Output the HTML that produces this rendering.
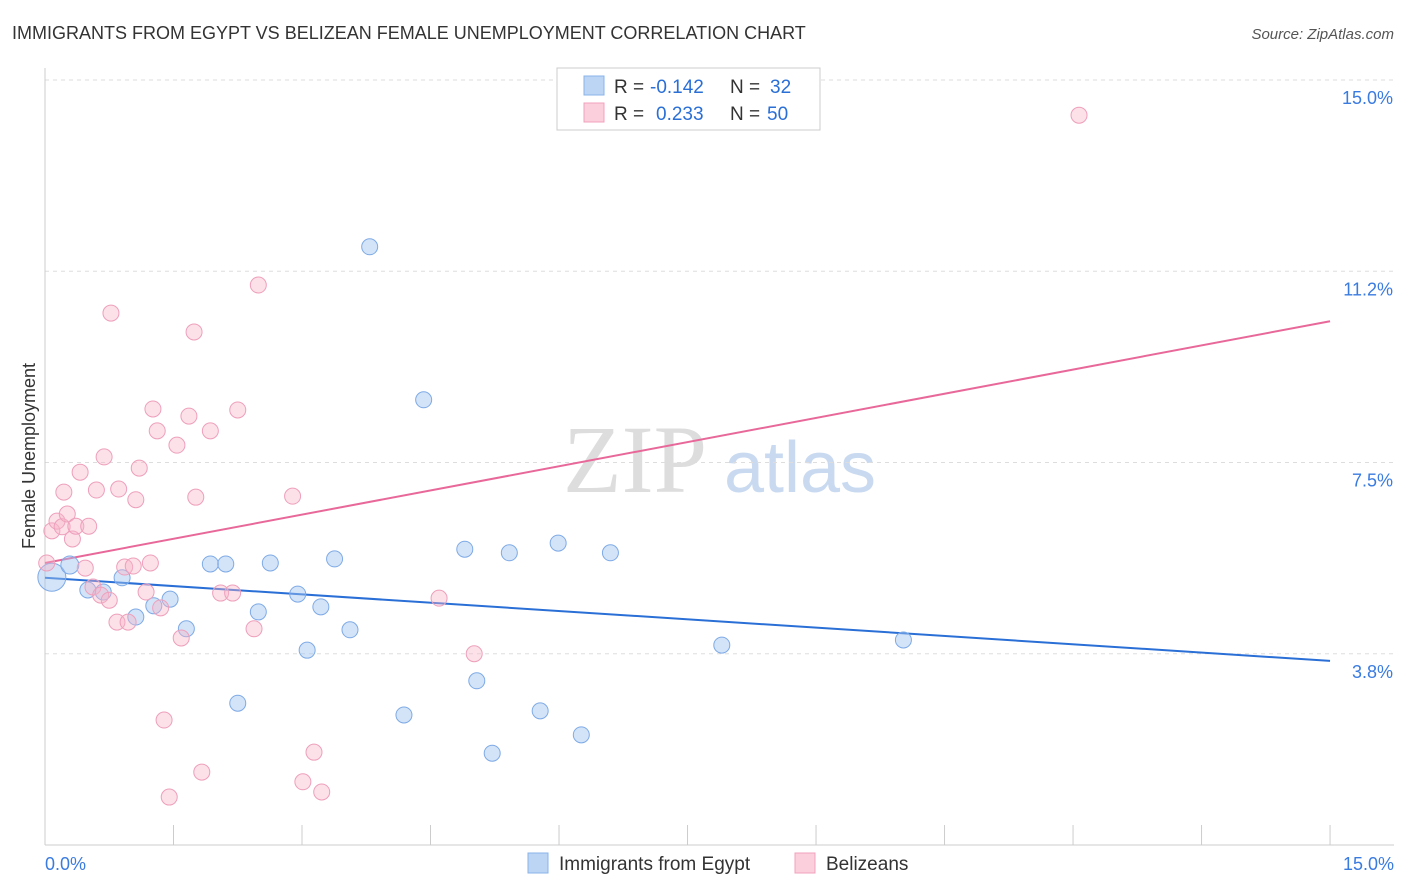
<!DOCTYPE html>
<html><head><meta charset="utf-8"><style>
body{margin:0;background:#fff;font-family:"Liberation Sans",sans-serif;}
#c{position:absolute;left:0;top:0;}
</style></head><body>
<svg id="c" width="1406" height="892" xmlns="http://www.w3.org/2000/svg">
<text x="12" y="39" font-size="18" fill="#333">IMMIGRANTS FROM EGYPT VS BELIZEAN FEMALE UNEMPLOYMENT CORRELATION CHART</text>
<text x="1394" y="39" font-size="15" fill="#555" text-anchor="end" font-style="italic">Source: ZipAtlas.com</text>
<text x="35" y="456" font-size="18" fill="#333" text-anchor="middle" transform="rotate(-90 35 456)">Female Unemployment</text>
<g>
<text x="635" y="492" font-size="96" fill="#ddd" text-anchor="middle" font-family="Liberation Serif,serif">ZIP</text>
<text x="800" y="492" font-size="72" fill="#c9daf0" text-anchor="middle">atlas</text>
</g>
<g id="grid"></g><g id="axes"></g><g id="lines"></g><g id="pts"></g>
<g font-size="19" fill="#333">
<rect x="557" y="68" width="263" height="62" fill="#fff" stroke="#ccc"/>
<rect x="584" y="76" width="20" height="19" fill="#bcd5f5" stroke="#8ab4e8"/>
<rect x="584" y="103" width="20" height="19" fill="#fbcfdc" stroke="#f0a0bc"/>
<text x="614" y="93">R =</text><text x="650" y="93" fill="#2a6fd6">-0.142</text>
<text x="730" y="93">N =</text><text x="770" y="93" fill="#2a6fd6">32</text>
<text x="614" y="120">R =</text><text x="656" y="120" fill="#2a6fd6">0.233</text>
<text x="730" y="120">N =</text><text x="767" y="120" fill="#2a6fd6">50</text>
</g>
<g>
<rect x="528" y="853" width="20" height="20" fill="#bcd5f5" stroke="#8ab4e8"/>
<text x="559" y="870" font-size="19" fill="#333">Immigrants from Egypt</text>
<rect x="795" y="853" width="20" height="20" fill="#fbcfdc" stroke="#f0a0bc"/>
<text x="826" y="870" font-size="19" fill="#333">Belizeans</text>
</g>
</svg>
<script>
const yTicks=[3.75,7.5,11.25,15];
const yTickLabels=["3.8%","7.5%","11.2%","15.0%"];
const xTicks=[0,1.5,3,4.5,6,7.5,9,10.5,12,13.5,15];
const xLabels=["0.0%","15.0%"];
const egyptX=[0.08,0.29,0.5,0.68,0.9,1.06,1.27,1.46,1.65,1.93,2.11,2.25,2.49,2.63,2.95,3.06,3.22,3.38,3.56,3.79,4.19,4.42,4.9,5.04,5.22,5.42,5.78,5.99,6.26,6.6,7.9,10.02];
const egyptY=[5.25,5.49,5.0,4.96,5.24,4.47,4.69,4.82,4.24,5.51,5.51,2.78,4.57,5.53,4.92,3.82,4.67,5.61,4.22,11.73,2.55,8.73,5.8,3.22,1.8,5.73,2.63,5.92,2.16,5.73,3.92,4.02];
const egyptR=[14,9,8,8,8,8,8,8,8,8,8,8,8,8,8,8,8,8,8,8,8,8,8,8,8,8,8,8,8,8,8,8];
const belX=[0.02,0.08,0.14,0.2,0.26,0.32,0.36,0.41,0.47,0.51,0.6,0.22,0.56,0.65,0.69,0.75,0.77,0.84,0.86,0.93,0.97,1.03,1.06,1.1,1.18,1.23,1.26,1.31,1.35,1.39,1.45,1.54,1.68,1.74,1.76,1.83,1.93,2.05,2.19,2.25,2.44,2.49,2.89,3.01,3.14,3.23,4.6,5.01,12.07,1.59];
const belY=[5.53,6.16,6.35,6.24,6.49,6.0,6.25,7.31,5.43,6.25,6.96,6.92,5.06,4.9,7.61,4.8,10.43,4.37,6.98,5.45,4.37,5.47,6.77,7.39,4.96,5.53,8.55,8.12,4.65,2.45,0.94,7.84,8.41,10.06,6.82,1.43,8.12,4.94,4.94,8.53,4.24,10.98,6.84,1.24,1.82,1.04,4.84,3.75,14.31,4.06];
const egyptTrend=[5.24,3.61];
const belTrend=[5.53,10.27];
const X=v=>45+v*85.67, Y=v=>845-v*51.0;
const NS="http://www.w3.org/2000/svg";
function mk(t,a,p){const e=document.createElementNS(NS,t);for(const k in a)e.setAttribute(k,a[k]);p.appendChild(e);return e;}
const grid=document.getElementById('grid'),axes=document.getElementById('axes'),lines=document.getElementById('lines'),pts=document.getElementById('pts');
yTicks.forEach((t,i)=>{
 const g=mk('line',{x1:45,x2:1394,y1:Y(t),y2:Y(t),stroke:'#ddd','stroke-dasharray':'4 4'},grid);
 
 
 const l=mk('text',{x:1393,y:Y(t)+24,'font-size':18,fill:'#3a7be0','text-anchor':'end'},axes);
 l.textContent=yTickLabels[i];
 
 
});
const ya=mk('line',{x1:45,x2:45,y1:68,y2:845,stroke:'#ccc'},axes);


const xa=mk('line',{x1:45,x2:1394,y1:845,y2:845,stroke:'#ccc'},axes);


xTicks.forEach(t=>{
 const k=mk('line',{x1:X(t),x2:X(t),y1:825,y2:845,stroke:'#ccc'},axes);
 
 
});
[[0,'start',45],[15,'end',1394]].forEach((d,i)=>{
 const l=mk('text',{x:d[2],y:870,'font-size':18,fill:'#3a7be0','text-anchor':d[1]},axes);
 l.textContent=xLabels[i];
 
 
});
egyptX.forEach((x,i)=>{
 const c=mk('circle',{cx:X(x),cy:Y(egyptY[i]),r:egyptR[i],fill:'rgba(160,196,240,0.45)',stroke:'#7eaae6','stroke-width':1},pts);
 
 
});
belX.forEach((x,i)=>{
 const c=mk('circle',{cx:X(x),cy:Y(belY[i]),r:8,fill:'rgba(248,180,200,0.4)',stroke:'#ee9fbb','stroke-width':1},pts);
 
 
});
const l1=mk('line',{x1:X(0),y1:Y(egyptTrend[0]),x2:X(15),y2:Y(egyptTrend[1]),stroke:'#2a6fd6','stroke-width':2},lines);


const l2=mk('line',{x1:X(0),y1:Y(belTrend[0]),x2:X(15),y2:Y(belTrend[1]),stroke:'#e8689a','stroke-width':2},lines);


</script>
</body></html>
